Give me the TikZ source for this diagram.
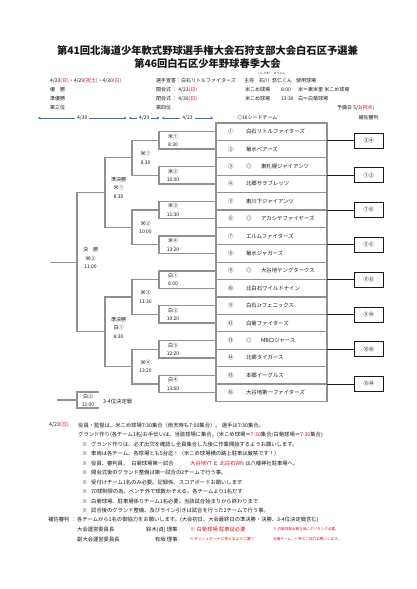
\documentclass[tikz,border=0pt]{standalone}
\usepackage{fontspec}
\setmainfont{Noto Sans CJK JP}
\usetikzlibrary{arrows.meta, positioning, calc}
\definecolor{myred}{RGB}{215,25,30}
\definecolor{myblue}{RGB}{60,110,190}
\definecolor{mygray}{RGB}{145,145,145}
\definecolor{mydark}{RGB}{25,25,25}
\newcommand{\rd}[1]{\textcolor{myred}{#1}}
\newcommand{\teamrow}[2]{\makebox[87pt][l]{\makebox[18pt][l]{#1}#2}}
\newcommand{\seedmark}{\makebox[15pt][l]{◎}}
\newcommand{\kome}{※\hspace{3.7pt}}
\tikzset{
  htxt/.style={anchor=west, inner sep=0pt, text=mydark,
    font=\fontsize{5}{6}\selectfont},
  ntxt/.style={anchor=west, inner sep=0pt, text=mydark,
    font=\fontsize{5.3}{6}\selectfont},
  ctxt/.style={inner sep=0pt, text=mydark, font=\fontsize{5}{6}\selectfont},
  title/.style={inner sep=0pt, text=mydark,
    font=\fontsize{10.3}{12}\selectfont\bfseries},
  team/.style={rectangle, draw=mygray, fill=white, line width=1.3pt,
    minimum height=17.4pt, inner xsep=12pt, inner ysep=0pt, outer sep=0pt,
    text=mydark, font=\fontsize{5.4}{6}\selectfont},
  hbox/.style={rectangle, draw=mydark, fill=white, line width=0.8pt,
    minimum width=29pt, minimum height=15pt, inner sep=0pt,
    font=\fontsize{5.2}{6}\selectfont},
  mlab/.style={inner sep=0pt, align=center, text=mydark,
    font=\fontsize{5}{8.5}\selectfont},
  bline/.style={draw=mygray, line width=1.3pt},
  hline/.style={draw=mydark, line width=0.7pt}
}

\begin{document}
\begin{tikzpicture}[x=1pt, y=-1pt,
  darrow/.style={{Stealth[length=2.6pt,width=2.6pt]}-{Stealth[length=2.6pt,width=2.6pt]},
    draw=myblue, line width=0.6pt},
  dlab/.style={fill=white, inner xsep=2pt, inner ysep=0pt, text=mydark,
    font=\fontsize{5}{6}\selectfont}]
  \useasboundingbox (0,0) rectangle (416,589);
  \fill[white] (0,0) rectangle (416,589);

  % Title
  \node[title] (title1) at (207.5,51) {第41回北海道少年軟式野球選手権大会石狩支部大会白石区予選兼};
  \node[title] (title2) at (207.5,63.5) {第46回白石区少年野球春季大会};

  % Header rows
  \node[ctxt, font=\fontsize{2.8}{3}\selectfont] (ruby1) at (264,73) {いしかわ};
  \node[ctxt, font=\fontsize{2.8}{3}\selectfont] (ruby2) at (279.5,73) {ゆうじん};
  \node[htxt] (dates) at (50,81) {4/23\rd{(日)}・4/29\rd{(祝土)}・4/30\rd{(日)}};
  \node[htxt] (oath) at (156,81) {選手宣誓：白石リトルファイターズ};
  \node[htxt] (capt) at (244,81) {主将};
  \node[htxt] (cname1) at (259,81) {石川};
  \node[htxt] (cname2) at (272,81) {悠仁くん};
  \node[htxt] (venue) at (296,81) {使用球場};

  \node[htxt] (place1) at (50,90) {優　勝};
  \node[htxt] (opening) at (156,90) {開会式 ： 4/23\rd{(日)}};
  \node[htxt] (openfield) at (245,90) {米こめ球場};
  \node[htxt] (opentime) at (281,90) {8:00};
  \node[htxt] (key1) at (298,90) {米＝東米里 米こめ球場};

  \node[htxt] (place2) at (50,99) {準優勝};
  \node[htxt] (closing) at (156,99) {閉会式 ： 4/30\rd{(日)}};
  \node[htxt] (closefield) at (245,99) {米こめ球場};
  \node[htxt] (closetime) at (281,99) {13:30};
  \node[htxt] (key2) at (298,99) {白＝白菊球場};

  \node[htxt] (place3) at (50,108) {第三位};
  \node[htxt] (place4) at (156,108) {第四位};
  \node[htxt] (spare) at (337,108) {予備日 5/3\rd{(祝水)}};

  % Day arrows
  \coordinate (d30a) at (38,118);
  \coordinate (d30b) at (126.5,118);
  \coordinate (d29a) at (129,118);
  \coordinate (d29b) at (159.5,118);
  \coordinate (d23a) at (162,118);
  \coordinate (d23b) at (213,118);
  \draw[darrow] (d30a) -- (d30b) node[dlab, midway] (d30) {4/30};
  \draw[darrow] (d29a) -- (d29b) node[dlab, midway] (d29) {4/29};
  \draw[darrow] (d23a) -- (d23b) node[dlab, midway] (d23) {4/23};
  \node[ctxt] (seedkey) at (257.5,118) {◎はシードチーム};
  \node[ctxt] (assist) at (368.5,118) {補佐審判};

  % Teams
  \node[team] (t1) at (271.5,131.7) {\teamrow{①}{白石リトルファイターズ}};
  \node[team, below=0pt of t1] (t2) {\teamrow{②}{菊水ベアーズ}};
  \node[team, below=0pt of t2] (t3) {\teamrow{③}{\seedmark 東札幌ジャイアンツ}};
  \node[team, below=0pt of t3] (t4) {\teamrow{④}{北郷サラブレッツ}};
  \node[team, below=0pt of t4] (t5) {\teamrow{⑤}{東川下ジャイアンツ}};
  \node[team, below=0pt of t5] (t6) {\teamrow{⑥}{\seedmark アカシヤファイヤーズ}};
  \node[team, below=0pt of t6] (t7) {\teamrow{⑦}{エルムファイターズ}};
  \node[team, below=0pt of t7] (t8) {\teamrow{⑧}{菊水ジャガーズ}};
  \node[team, below=0pt of t8] (t9) {\teamrow{⑨}{\seedmark 大谷地ヤングタークス}};
  \node[team, below=0pt of t9] (t10) {\teamrow{⑩}{北白石ワイルドナイン}};
  \node[team, below=0pt of t10] (t11) {\teamrow{⑪}{白石Jrフェニックス}};
  \node[team, below=0pt of t11] (t12) {\teamrow{⑫}{白菊ファイターズ}};
  \node[team, below=0pt of t12] (t13) {\teamrow{⑬}{\seedmark MBロジャース}};
  \node[team, below=0pt of t13] (t14) {\teamrow{⑭}{北郷タイガース}};
  \node[team, below=0pt of t14] (t15) {\teamrow{⑮}{本郷イーグルス}};
  \node[team, below=0pt of t15] (t16) {\teamrow{⑯}{大谷地第一ファイターズ}};

  % Assisting umpires
  \node[hbox, right=27pt of t1.south east] (h1) {③④};
  \node[hbox, right=27pt of t3.south east] (h2) {①②};
  \node[hbox, right=27pt of t5.south east] (h3) {⑦⑧};
  \node[hbox, right=27pt of t7.south east] (h4) {⑤⑥};
  \node[hbox, right=27pt of t9.south east] (h5) {⑪⑫};
  \node[hbox, right=27pt of t11.south east] (h6) {⑨⑩};
  \node[hbox, right=27pt of t13.south east] (h7) {⑮⑯};
  \node[hbox, right=27pt of t15.south east] (h8) {⑬⑭};
  \draw[hline] (t1.south east) -- (h1.west);
  \draw[hline] (t3.south east) -- (h2.west);
  \draw[hline] (t5.south east) -- (h3.west);
  \draw[hline] (t7.south east) -- (h4.west);
  \draw[hline] (t9.south east) -- (h5.west);
  \draw[hline] (t11.south east) -- (h6.west);
  \draw[hline] (t13.south east) -- (h7.west);
  \draw[hline] (t15.south east) -- (h8.west);

  % First round (4/23)
  \coordinate (m1) at ($(t1.west)!0.5!(t2.west)+(-57,0)$);
  \coordinate (m2) at ($(t3.west)!0.5!(t4.west)+(-57,0)$);
  \coordinate (m3) at ($(t5.west)!0.5!(t6.west)+(-57,0)$);
  \coordinate (m4) at ($(t7.west)!0.5!(t8.west)+(-57,0)$);
  \coordinate (m5) at ($(t9.west)!0.5!(t10.west)+(-57,0)$);
  \coordinate (m6) at ($(t11.west)!0.5!(t12.west)+(-57,0)$);
  \coordinate (m7) at ($(t13.west)!0.5!(t14.west)+(-57,0)$);
  \coordinate (m8) at ($(t15.west)!0.5!(t16.west)+(-57,0)$);
  \draw[bline] (t1.west) -| (m1) |- (t2.west);
  \draw[bline] (t3.west) -| (m2) |- (t4.west);
  \draw[bline] (t5.west) -| (m3) |- (t6.west);
  \draw[bline] (t7.west) -| (m4) |- (t8.west);
  \draw[bline] (t9.west) -| (m5) |- (t10.west);
  \draw[bline] (t11.west) -| (m6) |- (t12.west);
  \draw[bline] (t13.west) -| (m7) |- (t14.west);
  \draw[bline] (t15.west) -| (m8) |- (t16.west);
  \node[mlab] (lm1) at ($(m1)+(14,0)$) {米①\\8:30};
  \node[mlab] (lm2) at ($(m2)+(14,0)$) {米②\\10:00};
  \node[mlab] (lm3) at ($(m3)+(14,0)$) {米③\\11:30};
  \node[mlab] (lm4) at ($(m4)+(14,0)$) {米④\\13:20};
  \node[mlab] (lm5) at ($(m5)+(14,0)$) {白①\\8:00};
  \node[mlab] (lm6) at ($(m6)+(14,0)$) {白②\\10:20};
  \node[mlab] (lm7) at ($(m7)+(14,0)$) {白③\\12:20};
  \node[mlab] (lm8) at ($(m8)+(14,0)$) {白④\\13:50};

  % Second round (4/29)
  \coordinate (s1) at ($(m1)!0.5!(m2)+(-27,0)$);
  \coordinate (s2) at ($(m3)!0.5!(m4)+(-27,0)$);
  \coordinate (s3) at ($(m5)!0.5!(m6)+(-27,0)$);
  \coordinate (s4) at ($(m7)!0.5!(m8)+(-27,0)$);
  \draw[bline] (m1) -| (s1) |- (m2);
  \draw[bline] (m3) -| (s2) |- (m4);
  \draw[bline] (m5) -| (s3) |- (m6);
  \draw[bline] (m7) -| (s4) |- (m8);
  \node[mlab] (ls1) at ($(s1)+(13.5,0)$) {米①\\8:30};
  \node[mlab] (ls2) at ($(s2)+(13.5,0)$) {米②\\10:00};
  \node[mlab] (ls3) at ($(s3)+(13.5,0)$) {米③\\11:30};
  \node[mlab] (ls4) at ($(s4)+(13.5,0)$) {米④\\13:20};

  % Semi-finals and final (4/30)
  \coordinate (f1) at ($(s1)!0.5!(s2)+(-27,0)$);
  \coordinate (f2) at ($(s3)!0.5!(s4)+(-27,0)$);
  \draw[bline] (s1) -| (f1) |- (s2);
  \draw[bline] (s3) -| (f2) |- (s4);
  \node[mlab] (lf1) at ($(f1)+(13.5,-5)$) {準決勝\\米①\\8:30};
  \node[mlab] (lf2) at ($(f2)+(13.5,-4)$) {準決勝\\白①\\8:30};
  \coordinate (fin) at ($(f1)!0.5!(f2)+(-28,0)$);
  \coordinate (finout) at ($(fin)+(-27,0)$);
  \draw[bline] (f1) -| (fin) |- (f2);
  \draw[bline] (fin) -- (finout);
  \node[mlab] (lfin) at ($(fin)+(13.5,-4)$) {決　勝\\米②\\11:00};

  % Third place
  \coordinate (tp) at (77,400);
  \coordinate (tpa) at (99,392);
  \coordinate (tpb) at (99,408);
  \coordinate (tpin) at (57,400);
  \draw[bline] (tpa) -| (tp) |- (tpb);
  \draw[bline] (tpin) -- (tp);
  \node[mlab] (ltp) at (88,400.5) {白②\\11:00};
  \node[ntxt] (ltpname) at (103,401) {3-4位決定戦};

  % Notes
  \node[ntxt] (nday) at (49,425) {4/23\rd{(日)}};
  \node[ntxt] (n1) at (78,425) {役員・監督は、米こめ球場7:30集合（雨天時も7:00集合）。 選手は7:30集合。};
  \node[ntxt] (n2) at (78,434.5) {グランド作り(各チーム1名)お手伝いは、当該球場に集合。(米こめ球場＝\rd{7:30}集合/白菊球場＝\rd{7:30}集合)};
  \node[ntxt] (n3) at (82,444) {\kome グランド作りは、必ず出欠を確認し全員集合した後に作業開始するようお願いします。};
  \node[ntxt] (n4) at (82,453.5) {\kome 車両は各チーム、各球場とも5台迄！（米こめ球場横の路上駐車は厳禁です！）};
  \node[ntxt] (n5) at (82,463) {\kome 役員、審判員、\hspace{3pt}白菊球場第一試合};
  \node[ntxt] (n5b) at (190,463) {\rd{大谷地YT} と \rd{北白石WN} は八幡神社駐車場へ。};
  \node[ntxt] (n6) at (82,472.5) {\kome 開会式後のグランド整備は第一試合の2チームで行う事。};
  \node[ntxt] (n7) at (82,482) {\kome 受付けチーム1名のみ必要。記録係、スコアボードお願いします};
  \node[ntxt] (n8) at (82,491.5) {\kome 70球制限の為、ベンチ外で球数かぞえる。各チームより1名だす};
  \node[ntxt] (n9) at (82,501) {\kome 白菊球場、駐車場係りチーム1名必要。当該試合始まりから終わりまで};
  \node[ntxt] (n10) at (82,510.5) {\kome 試合後のグランド整備、及びライン引きは試合を行った2チームで行う事。};
  \node[ntxt] (n11) at (48,520) {補佐審判 ： 各チームから1名の御協力をお願いします。(大会初日、大会最終日の準決勝・決勝、3-4位決定戦含む)};
  \node[ntxt] (chair) at (77,529.5) {大会運営委員長};
  \node[ntxt] (chairname) at (146,529.5) {鈴木(貞) 理事};
  \node[ntxt, text=myred] (r1) at (190,529.5) {※ 白菊球場 駐車証必要};
  \node[ntxt, text=myred, font=\fontsize{3.6}{4}\selectfont] (r2) at (273,529.5) {※ 白菊球場水撒き用にポリタンク必要。};
  \node[ntxt] (vice) at (77,539) {副大会運営委員長};
  \node[ntxt] (vicename) at (155,539) {有坂 理事};
  \node[ntxt, text=myred, font=\fontsize{3.8}{4}\selectfont] (r3) at (190,539) {※ダッシュボードに見えるように置く};
  \node[ntxt, text=myred, font=\fontsize{3.6}{4}\selectfont] (r4) at (273,539) {当番チーム、一杯のご協力お願いします。};
\end{tikzpicture}
\end{document}
